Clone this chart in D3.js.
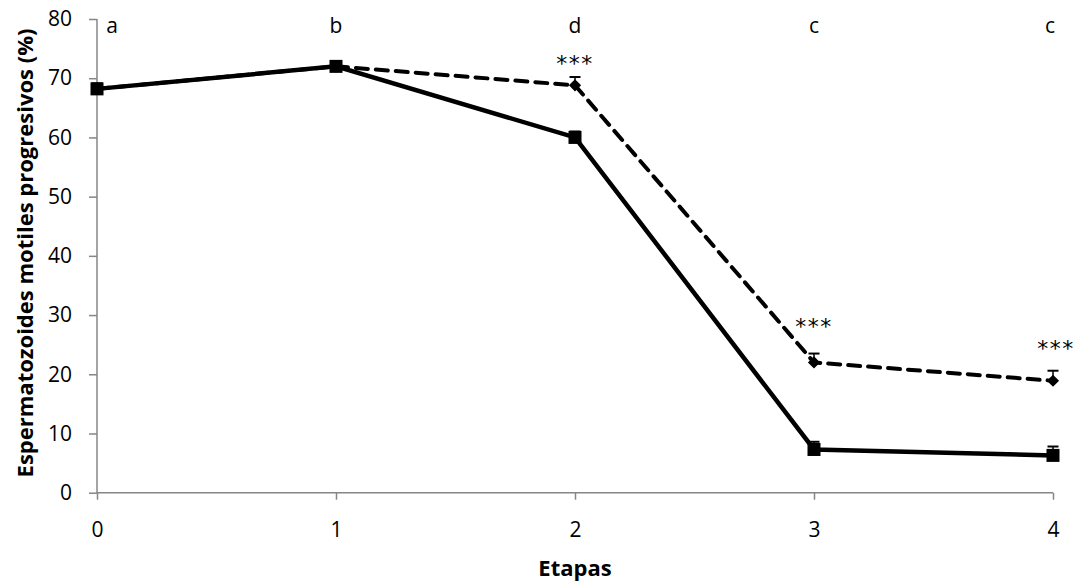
<!DOCTYPE html>
<html><head><meta charset="utf-8">
<script src="https://cdn.jsdelivr.net/npm/d3@7/dist/d3.min.js"></script>
<style>body{margin:0;background:#fff;} text{font-family:"Open Sans",sans-serif;}</style>
</head><body>
<svg id="c" width="1076" height="583"></svg>
<script>
const etapas = [0, 1, 2, 3, 4];
const solidValues = [68.2, 72.0, 60.0, 7.3, 6.3];
const solidErrors = [0.9, 0.9, 1.0, 1.3, 1.5];
const dashedValues = [68.2, 72.0, 68.8, 22.0, 18.9];
const dashedErrors = [0.9, 0.9, 1.4, 1.5, 1.7];
const letters = ["a", "b", "d", "c", "c"];
const signif = ["", "", "***", "***", "***"];
const signifLevel = [null, null, 73.4, 29.0, 25.3];
const yTicks = [0, 10, 20, 30, 40, 50, 60, 70, 80];

const svg = d3.select("#c");
const x = d3.scaleLinear().domain([0, 4]).range([97, 1053]);
const y = d3.scaleLinear().domain([0, 80]).range([492.7, 19]);
const axisColor = "#868686";
const FONT = "'Open Sans',sans-serif";

// axes
const yAx = svg.append("g").attr("transform", "translate(97,0)")
  .call(d3.axisLeft(y).tickValues(yTicks).tickSize(8).tickPadding(17).tickFormat(d3.format("d")));
const xAx = svg.append("g").attr("transform", "translate(0,492.7)")
  .call(d3.axisBottom(x).tickValues(etapas).tickSize(7).tickPadding(22).tickFormat(d3.format("d")));
[yAx, xAx].forEach(g => {
  g.select(".domain").attr("stroke", axisColor).attr("stroke-width", 1.5);
  g.selectAll(".tick line").attr("stroke", axisColor).attr("stroke-width", 1.5);
  g.selectAll(".tick text").attr("fill", "#000").style("font-size", "21px").style("font-family", FONT);
});
xAx.select(".domain").attr("d", `M97,0H1053`);
xAx.selectAll(".tick text").attr("dy", "0.71em");
yAx.select(".domain").attr("d", `M0,${y(80)}V${y(0)}`);

// titles
svg.append("text").attr("x", 575).attr("y", 576).attr("text-anchor", "middle")
  .style("font-size", "22px").style("font-weight", "bold").text("Etapas");
svg.append("text").attr("transform", "translate(33,253) rotate(-90)").attr("text-anchor", "middle")
  .style("font-size", "22px").style("font-weight", "bold").text("Espermatozoides motiles progresivos (%)");

const line = d3.line().x((d, i) => x(etapas[i])).y(d => y(d));

function errorBars(vals, errs) {
  const g = svg.append("g");
  vals.forEach((v, i) => {
    const cx = x(etapas[i]);
    g.append("line").attr("x1", cx).attr("x2", cx).attr("y1", y(v)).attr("y2", y(v + errs[i]))
      .attr("stroke", "#000").attr("stroke-width", 1.5);
    g.append("line").attr("x1", cx - 5.5).attr("x2", cx + 5.5).attr("y1", y(v + errs[i])).attr("y2", y(v + errs[i]))
      .attr("stroke", "#000").attr("stroke-width", 2);
  });
}

// dashed series
errorBars(dashedValues, dashedErrors);
svg.append("path").datum(dashedValues).attr("d", line).attr("fill", "none")
  .attr("stroke", "#000").attr("stroke-width", 4).attr("stroke-dasharray", "12,8").attr("stroke-linecap", "round");
svg.append("g").selectAll("path").data(dashedValues).join("path")
  .attr("d", d3.symbol().type(d3.symbolSquare).size(74))
  .attr("transform", (d, i) => `translate(${x(etapas[i])},${y(d)}) rotate(45)`).attr("fill", "#000");

// solid series
errorBars(solidValues, solidErrors);
svg.append("path").datum(solidValues).attr("d", line).attr("fill", "none")
  .attr("stroke", "#000").attr("stroke-width", 4.5);
svg.append("g").selectAll("rect").data(solidValues).join("rect")
  .attr("x", (d, i) => x(etapas[i]) - 6.5).attr("y", d => y(d) - 6.5)
  .attr("width", 13).attr("height", 13).attr("fill", "#000");

// letters
svg.append("g").selectAll("text").data(letters).join("text")
  .attr("x", (d, i) => i === 0 ? x(etapas[i]) + 15 : x(etapas[i]) - (i === 4 ? 3 : 0))
  .attr("y", 33).attr("text-anchor", "middle").style("font-size", "21px").text(d => d);

// significance
svg.append("g").selectAll("text").data(signif).join("text")
  .attr("x", (d, i) => x(etapas[i]) - (i === 4 ? -3 : 0))
  .attr("y", (d, i) => signifLevel[i] == null ? 0 : y(signifLevel[i]) + 13)
  .attr("text-anchor", "middle").style("font-size", "22px").style("font-family", "'DejaVu Sans',sans-serif")
  .style("letter-spacing", "1.5px").text(d => d);
</script>
</body></html>
